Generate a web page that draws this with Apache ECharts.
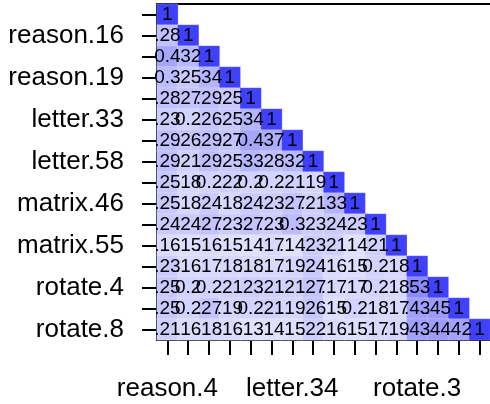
<!DOCTYPE html>
<html>
<head>
<meta charset="utf-8">
<script src="https://cdn.jsdelivr.net/npm/echarts@6/dist/echarts.min.js"></script>
<style>html,body{margin:0;padding:0;background:#fff}#c{width:490px;height:404px}</style>
</head>
<body>
<div id="c"></div>
<script>
const vars = ['reason.4','reason.16','reason.17','reason.19','letter.7','letter.33','letter.34','letter.58',
  'matrix.45','matrix.46','matrix.47','matrix.55','rotate.3','rotate.4','rotate.6','rotate.8'];

const row_reason4  = [1];
const row_reason16 = [.28, 1];
const row_reason17 = [.40, .32, 1];
const row_reason19 = [.30, .25, .34, 1];
const row_letter7  = [.28, .27, .29, .25, 1];
const row_letter33 = [.23, .20, .26, .25, .34, 1];
const row_letter34 = [.29, .26, .29, .27, .40, .37, 1];
const row_letter58 = [.29, .21, .29, .25, .33, .28, .32, 1];
const row_matrix45 = [.25, .18, .20, .22, .20, .20, .21, .19, 1];
const row_matrix46 = [.25, .18, .24, .18, .24, .23, .27, .21, .33, 1];
const row_matrix47 = [.24, .24, .27, .23, .27, .23, .30, .23, .24, .23, 1];
const row_matrix55 = [.16, .15, .16, .15, .14, .17, .14, .23, .21, .14, .21, 1];
const row_rotate3  = [.23, .16, .17, .18, .18, .17, .19, .24, .16, .15, .20, .18, 1];
const row_rotate4  = [.25, .20, .20, .21, .23, .21, .21, .27, .17, .17, .20, .18, .53, 1];
const row_rotate6  = [.25, .20, .27, .19, .20, .21, .19, .26, .15, .20, .18, .17, .43, .45, 1];
const row_rotate8  = [.21, .16, .18, .16, .13, .14, .15, .22, .16, .15, .17, .19, .43, .44, .42, 1];

const rows = [row_reason4,row_reason16,row_reason17,row_reason19,row_letter7,row_letter33,row_letter34,row_letter58,
  row_matrix45,row_matrix46,row_matrix47,row_matrix55,row_rotate3,row_rotate4,row_rotate6,row_rotate8];

const yLabelShown = i => i % 2 === 1;
const xLabelShown = i => i % 6 === 0;

const data = [];
rows.forEach((r, i) => r.forEach((v, j) => data.push([j, i, v])));

function fmt(v) {
  if (v === 1) return '1';
  const h = Math.round(v * 100);
  if (h % 10 === 0) return '0.' + (h / 10);
  return '.' + (h < 10 ? '0' + h : h);
}

const chart = echarts.init(document.getElementById('c'), null, {renderer: 'canvas'});
chart.setOption({
  animation: false,
  backgroundColor: '#ffffff',
  grid: {left: 157, top: 4, width: 339, height: 336, containLabel: false},
  visualMap: {show: false, min: 0, max: 1, dimension: 2, inRange: {color: ['#ffffff', '#9090ff', '#4040ff']}},
  xAxis: [{
    type: 'category', data: vars, position: 'bottom',
    axisLine: {show: true, lineStyle: {color: '#000', width: 2}},
    axisTick: {show: true, interval: 0, alignWithLabel: true, length: 15, lineStyle: {color: '#000', width: 2}},
    axisLabel: {interval: (i) => xLabelShown(i), margin: 36, fontSize: 26, color: '#000', fontFamily: 'Liberation Sans, Arial, sans-serif'},
    splitLine: {show: false}
  }, {
    type: 'category', data: vars, position: 'top',
    axisLine: {show: true, lineStyle: {color: '#000', width: 2}},
    axisTick: {show: false}, axisLabel: {show: false}, splitLine: {show: false}
  }],
  yAxis: {
    type: 'category', data: vars, inverse: true,
    axisLine: {show: true, lineStyle: {color: '#000', width: 2}},
    axisTick: {show: true, interval: 0, alignWithLabel: true, length: 15, lineStyle: {color: '#000', width: 2}},
    axisLabel: {interval: (i) => yLabelShown(i), margin: 33, fontSize: 26, color: '#000', fontFamily: 'Liberation Sans, Arial, sans-serif'},
    splitLine: {show: false}
  },
  series: [{
    type: 'heatmap',
    data: data,
    itemStyle: {borderColor: 'rgba(255,255,255,0.2)', borderWidth: 1},
    label: {show: true, formatter: p => fmt(p.value[2]), fontSize: 19, color: '#000',
      fontFamily: 'Liberation Sans Narrow, Arial Narrow, sans-serif'},
    emphasis: {disabled: true}
  }]
});
</script>
</body>
</html>
